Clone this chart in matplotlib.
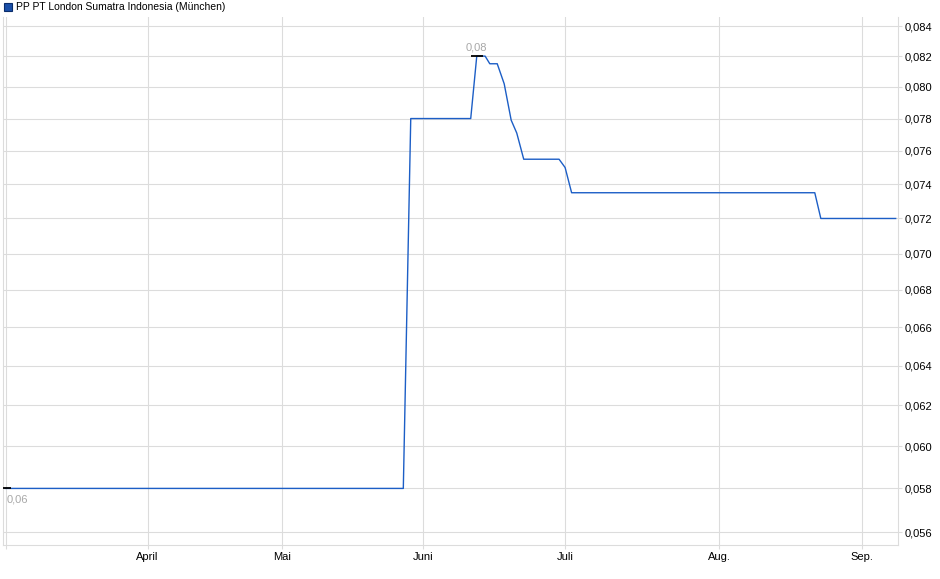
import numpy as np
import matplotlib
matplotlib.use("Agg")
import matplotlib.pyplot as plt
from matplotlib.ticker import FixedLocator, FuncFormatter, NullLocator

# ---------------------------------------------------------------
# Daten, x = laufender Handelstag-Index
# ---------------------------------------------------------------
tag = [0.5, 86.1, 87.7, 100.6, 101.9, 103.7, 104.7, 106.3, 107.8, 109.3,
       110.5, 112.0, 119.6, 120.9, 122.3, 174.6, 175.9, 192.0]
kurs = [0.058, 0.058, 0.078, 0.078, 0.082, 0.082, 0.0815, 0.0815, 0.0802, 0.0779,
        0.0771, 0.0755, 0.0755, 0.0750, 0.0735, 0.0735, 0.072, 0.072]

monat_pos = [0.6, 31.1, 60.1, 90.4, 120.9, 154.0, 184.7]
monat_txt = ["", "April", "Mai", "Juni", "Juli", "Aug.", "Sep."]

y_ticks = [0.056, 0.058, 0.060, 0.062, 0.064, 0.066, 0.068, 0.070,
           0.072, 0.074, 0.076, 0.078, 0.080, 0.082, 0.084]

titel = "PP PT London Sumatra Indonesia (München)"
farbe = "#1c5ec6"
grid_farbe = "#dcdcdc"

plt.rcParams["font.family"] = ["Liberation Sans", "DejaVu Sans"]

W, H = 940, 579
fig = plt.figure(figsize=(W / 100, H / 100), dpi=100)
ax = fig.add_axes([3 / W, (H - 545) / H, (898 - 3) / W, (545 - 17) / H])

ax.plot(tag, kurs, color=farbe, lw=1.0, zorder=3)

# Min / Max Markierung
i_max = int(np.argmax(kurs))
i_min = int(np.argmin(kurs))
ax.plot([tag[i_max]], [kurs[i_max]], marker="_", ms=8, mew=1.3, color="black", zorder=4)
ax.plot([tag[i_min]], [kurs[i_min]], marker="_", ms=8, mew=1.3, color="black", zorder=4)
ax.annotate("0,08", (tag[i_max], kurs[i_max]), xytext=(0, 2.5), textcoords="offset points",
            ha="center", va="bottom", fontsize=8, color="#a8a8a8")
ax.annotate("0,06", (tag[i_min], kurs[i_min]), xytext=(1, -4.5), textcoords="offset points",
            ha="left", va="top", fontsize=8, color="#a8a8a8")

ax.set_yscale("log")
ax.set_ylim(0.05543, 0.08461)
ax.set_xlim(0, 192.5)
ax.yaxis.set_major_locator(FixedLocator(y_ticks))
ax.yaxis.set_minor_locator(NullLocator())
ax.yaxis.set_major_formatter(FuncFormatter(lambda v, p: ("%.3f" % v).replace(".", ",")))
ax.yaxis.tick_right()
ax.set_xticks(monat_pos)
ax.set_xticklabels(monat_txt)

ax.grid(True, color=grid_farbe, lw=0.8)
ax.set_axisbelow(True)
for s in ["left", "right", "bottom"]:
    ax.spines[s].set_color(grid_farbe)
    ax.spines[s].set_linewidth(0.8)
ax.spines["top"].set_visible(False)
ax.tick_params(axis="both", colors=grid_farbe, labelcolor="black", labelsize=8,
               length=3, width=0.8, pad=2)

# Legende oben links
fig.patches.append(plt.Rectangle((4 / W, 1 - 11 / H), 8 / W, 8 / H, transform=fig.transFigure,
                                 facecolor="#1a4fa8", edgecolor="#0b2d6b", lw=0.8))
fig.text(16 / W, 1 - 7 / H, titel, fontsize=7.5, va="center", ha="left")

fig.savefig("out.png", dpi=100)
